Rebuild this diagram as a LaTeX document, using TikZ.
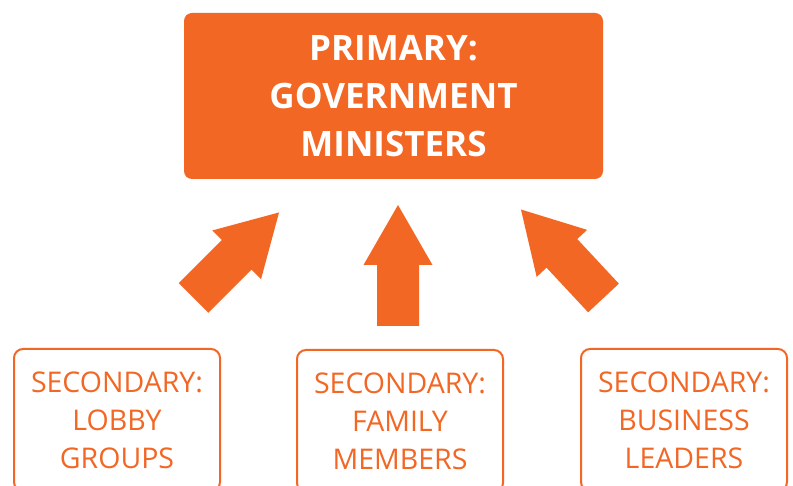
\documentclass[tikz,border=0pt]{standalone}
\usepackage{fontspec}
\setmainfont{Open Sans}
\definecolor{brandorange}{RGB}{242,103,36}
\tikzset{
  primarybox/.style={fill=brandorange, rounded corners=8pt, minimum width=419pt, minimum height=166pt,
    text=white, align=center, inner sep=0pt,
    font=\fontsize{35}{48}\selectfont\bfseries},
  secondarybox/.style={draw=brandorange, line width=2pt, rounded corners=9pt, minimum width=206pt, minimum height=142pt,
    text=brandorange, align=center, inner sep=0pt,
    font=\fontsize{28.5}{38}\selectfont},
  bigarrowfill/.style={fill=brandorange}
}
\begin{document}
\begin{tikzpicture}[x=1pt,y=-1pt]
\clip (0,0) rectangle (793,486);
\fill[white] (0,0) rectangle (793,486);
\node[primarybox] (primary) at (393.5,96) {PRIMARY:\\GOVERNMENT\\MINISTERS};
\node[secondarybox] (lobby) at (117,420) {SECONDARY:\\LOBBY\\GROUPS};
\node[secondarybox] (family) at (400,421) {SECONDARY:\\FAMILY\\MEMBERS};
\node[secondarybox] (business) at (684,420) {SECONDARY:\\BUSINESS\\LEADERS};
% block arrows: base centre, then rotated
\begin{scope}[shift={(193.5,298)}, rotate=-45]
  \fill[bigarrowfill] (-21,0) -- (21,0) -- (21,-61) -- (34.5,-61) -- (0,-121) -- (-34.5,-61) -- (-21,-61) -- cycle;
\end{scope}
\begin{scope}[shift={(398,326)}]
  \fill[bigarrowfill] (-21,0) -- (21,0) -- (21,-61) -- (34.5,-61) -- (0,-121) -- (-34.5,-61) -- (-21,-61) -- cycle;
\end{scope}
\begin{scope}[shift={(603.5,298)}, rotate=43]
  \fill[bigarrowfill] (-21,0) -- (21,0) -- (21,-61) -- (34.5,-61) -- (0,-121) -- (-34.5,-61) -- (-21,-61) -- cycle;
\end{scope}
\end{tikzpicture}
\end{document}
